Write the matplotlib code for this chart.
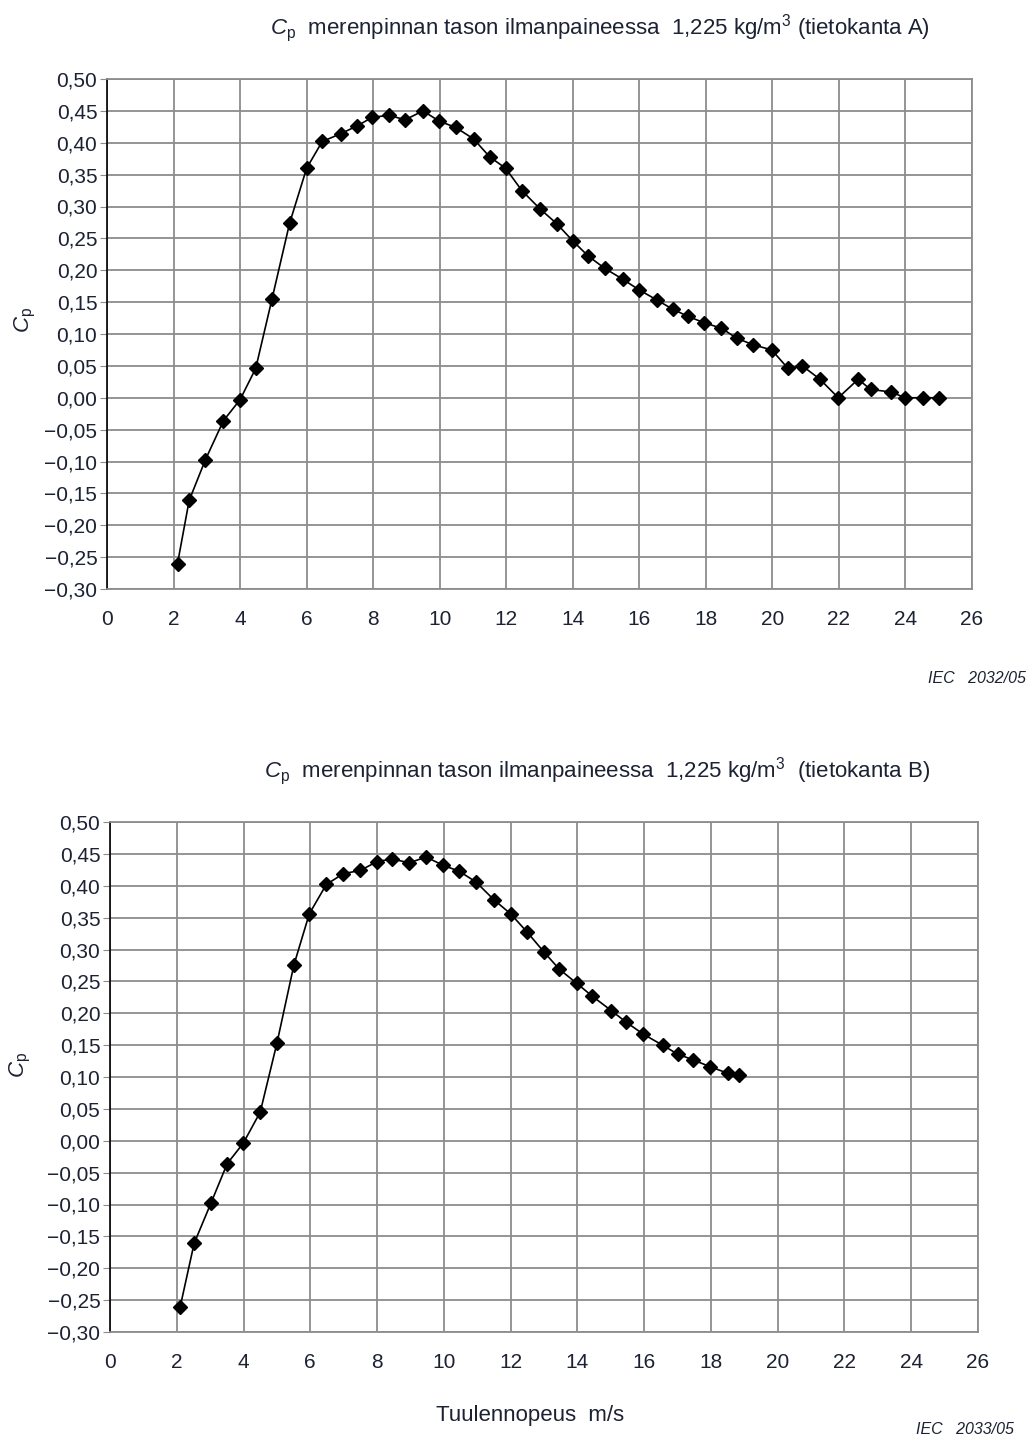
import matplotlib
matplotlib.use("Agg")
import matplotlib.pyplot as plt
from matplotlib.ticker import FuncFormatter

plt.rcParams['font.family'] = ['Liberation Sans', 'DejaVu Sans']
plt.rcParams['mathtext.fontset'] = 'custom'
plt.rcParams['mathtext.it'] = 'Liberation Sans:italic'
plt.rcParams['mathtext.rm'] = 'Liberation Sans'

# Cp curve, database A (wind speed m/s, Cp)
speed_a = [2.12, 2.47, 2.96, 3.5, 4.0, 4.47, 4.96, 5.49, 6.0, 6.47, 7.02, 7.5, 7.98, 8.48,
           8.96, 9.5, 9.98, 10.48, 11.02, 11.5, 11.98, 12.47, 13.02, 13.52, 14.0, 14.47,
           14.96, 15.5, 16.0, 16.54, 17.0, 17.45, 17.93, 18.47, 18.94, 19.43, 19.98, 20.47,
           20.9, 21.43, 21.98, 22.58, 22.95, 23.58, 23.98, 24.52, 25.0]
cp_a = [-0.26, -0.161, -0.097, -0.036, -0.003, 0.046, 0.155, 0.274, 0.36, 0.402, 0.414,
        0.426, 0.44, 0.443, 0.436, 0.45, 0.434, 0.424, 0.406, 0.378, 0.36, 0.325, 0.296,
        0.273, 0.246, 0.222, 0.203, 0.186, 0.169, 0.153, 0.139, 0.128, 0.118, 0.109,
        0.093, 0.083, 0.075, 0.046, 0.05, 0.029, 0.0, 0.029, 0.013, 0.009, 0.0, 0.0, 0.0]

# Cp curve, database B
speed_b = [2.1, 2.52, 3.03, 3.51, 3.99, 4.5, 5.0, 5.51, 5.97, 6.48, 6.99, 7.5, 8.0, 8.46,
           8.96, 9.47, 9.98, 10.45, 10.96, 11.5, 12.0, 12.5, 13.0, 13.46, 13.98, 14.44,
           15.02, 15.46, 15.98, 16.55, 17.0, 17.46, 17.98, 18.5, 18.85]
cp_b = [-0.261, -0.161, -0.097, -0.036, -0.004, 0.045, 0.153, 0.276, 0.356, 0.402, 0.419,
        0.424, 0.438, 0.442, 0.436, 0.445, 0.432, 0.423, 0.406, 0.378, 0.356, 0.327,
        0.296, 0.269, 0.247, 0.227, 0.204, 0.186, 0.167, 0.15, 0.136, 0.127, 0.116,
        0.106, 0.103]

x_ticks = list(range(0, 27, 2))
y_ticks = [round(-0.30 + 0.05 * i, 2) for i in range(17)]

W, H = 1030, 1441
TEXT = '#1c2233'
GRID = '#8c8c8c'


def comma_fmt(v, pos):
    return f"{v:.2f}".replace('.', ',').replace('-', '\u2212')


def make_axes(fig, left, top, right, bottom, x, y, title, title_xy):
    ax = fig.add_axes([left / W, 1 - bottom / H, (right - left) / W, (bottom - top) / H])
    ax.plot(x, y, color='black', lw=1.2, marker='D', markersize=7,
            markerfacecolor='black', markeredgecolor='black', zorder=3)
    ax.set_xlim(0, 26)
    ax.set_ylim(-0.30, 0.50)
    ax.set_xticks(x_ticks)
    ax.set_yticks(y_ticks)
    ax.yaxis.set_major_formatter(FuncFormatter(comma_fmt))
    ax.grid(True, color=GRID, lw=1.3)
    ax.set_axisbelow(True)
    for side in ['top', 'right', 'bottom']:
        ax.spines[side].set_color(GRID)
        ax.spines[side].set_linewidth(1.3)
    ax.spines['left'].set_color('black')
    ax.spines['left'].set_linewidth(1.2)
    ax.tick_params(axis='y', length=5, color=GRID, labelsize=15, labelcolor=TEXT, pad=2)
    ax.tick_params(axis='x', length=0, labelsize=15, labelcolor=TEXT, pad=15)
    fig.text(title_xy[0] / W, 1 - title_xy[1] / H, title, ha='center', va='center',
             fontsize=16, color=TEXT)
    return ax


fig = plt.figure(figsize=(W / 100, H / 100), dpi=100)

make_axes(fig, 107, 79, 972, 589, speed_a, cp_a,
          r'$C_{\mathrm{p}}$  merenpinnan tason ilmanpaineessa  1,225 kg/m$^3$ (tietokanta A)',
          (600, 28))
fig.text(25 / W, 1 - 320 / H, r'$C_{\mathrm{p}}$', rotation=90, ha='center', va='center',
         fontsize=16, color=TEXT)
fig.text(1026 / W, 1 - 678 / H, 'IEC   2032/05', ha='right', va='center',
         fontsize=11.5, style='italic', color=TEXT)

make_axes(fig, 110, 822, 978, 1332, speed_b, cp_b,
          r'$C_{\mathrm{p}}$  merenpinnan tason ilmanpaineessa  1,225 kg/m$^3$  (tietokanta B)',
          (597, 771))
fig.text(20 / W, 1 - 1065 / H, r'$C_{\mathrm{p}}$', rotation=90, ha='center', va='center',
         fontsize=16, color=TEXT)
fig.text(530 / W, 1 - 1415 / H, 'Tuulennopeus  m/s', ha='center', va='center',
         fontsize=16, color=TEXT)
fig.text(1014 / W, 1 - 1430 / H, 'IEC   2033/05', ha='right', va='center',
         fontsize=11.5, style='italic', color=TEXT)

fig.savefig('out.png', dpi=100)
